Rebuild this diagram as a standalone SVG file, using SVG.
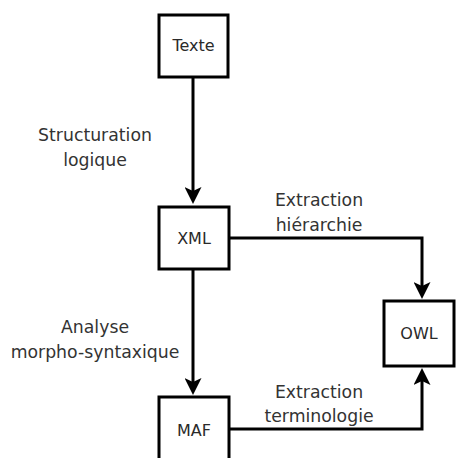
<svg xmlns="http://www.w3.org/2000/svg" width="458" height="458" viewBox="0 0 458 458">
<style>
.box{fill:#fff;stroke:#000;stroke-width:3}
.lbl{font-family:"DejaVu Sans",sans-serif;font-size:16px;fill:#2a2a2a;text-anchor:middle}
.edge{font-family:"DejaVu Sans",sans-serif;font-size:17.3px;fill:#333;text-anchor:middle}
.con{fill:none;stroke:#000;stroke-width:3;marker-end:url(#ah)}
</style>
<defs>
<marker id="ah" markerUnits="userSpaceOnUse" markerWidth="17" markerHeight="17" viewBox="0 0 17 17" refX="11" refY="8.5" orient="auto">
<path d="M0,0 L17,8.5 L0,17 L4,8.5 Z" fill="#000"/>
</marker>
</defs>
<rect width="458" height="458" fill="#fff"/>
<g id="connectors">
<path class="con" d="M193,78 V198"/>
<path class="con" d="M193,270 V389"/>
<path class="con" d="M229,238 H422 V293"/>
<path class="con" d="M229,429 H422 V374"/>
</g>
<g id="labels">
<text class="edge" x="95" y="141">Structuration</text>
<text class="edge" x="95" y="166">logique</text>
<text class="edge" x="319" y="206">Extraction</text>
<text class="edge" x="319" y="231">hiérarchie</text>
<text class="edge" x="95" y="333">Analyse</text>
<text class="edge" x="95" y="358">morpho-syntaxique</text>
<text class="edge" x="319" y="398">Extraction</text>
<text class="edge" x="319" y="422">terminologie</text>
</g>
<g id="texte"><rect class="box" x="159" y="15" width="69" height="62"/><text class="lbl" x="193.5" y="51">Texte</text></g>
<g id="xml"><rect class="box" x="159" y="207" width="70" height="62"/><text class="lbl" x="194" y="244">XML</text></g>
<g id="owl"><rect class="box" x="384" y="301" width="70" height="65"/><text class="lbl" x="419" y="339">OWL</text></g>
<g id="maf"><rect class="box" x="159" y="397" width="70" height="70"/><text class="lbl" x="194" y="436">MAF</text></g>
</svg>
